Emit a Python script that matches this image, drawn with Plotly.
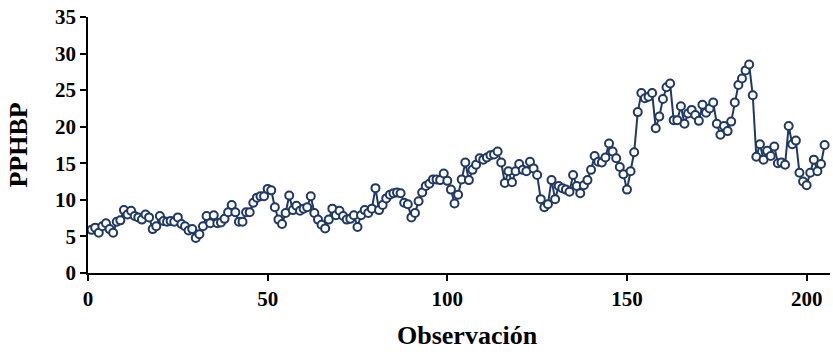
import plotly.graph_objects as go

obs = list(range(1, 206))
pphbp = [
    5.9, 6.2, 5.5, 6.4, 6.8, 6.0, 5.5, 7.0, 7.2, 8.6,
    8.0, 8.5, 7.8, 7.6, 7.3, 8.0, 7.6, 6.0, 6.4, 7.8,
    7.1, 7.0, 7.1, 7.0, 7.6, 6.7, 6.4, 5.8, 6.0, 4.8,
    5.3, 6.4, 7.8, 6.8, 7.9, 6.8, 6.9, 7.4, 8.3, 9.3,
    8.3, 7.0, 7.0, 8.3, 8.3, 9.6, 10.3, 10.5, 10.5, 11.5,
    11.3, 9.0, 7.3, 6.7, 8.2, 10.6, 8.6, 9.2, 8.5, 8.8,
    9.0, 10.5, 8.2, 7.3, 6.6, 6.1, 7.3, 8.8, 7.9, 8.5,
    7.8, 7.3, 7.4, 7.9, 6.3, 7.9, 8.6, 8.2, 8.8, 11.6,
    8.6, 9.3, 10.2, 10.7, 10.9, 11.0, 10.9, 9.6, 9.4, 7.6,
    8.2, 9.8, 11.0, 11.9, 12.2, 12.8, 12.8, 12.7, 13.6, 12.6,
    11.4, 9.5, 10.7, 12.8, 15.1, 12.7, 14.1, 14.8, 15.7, 15.5,
    15.8, 16.1, 16.2, 16.6, 15.1, 12.3, 13.9, 12.4, 13.9, 14.9,
    14.1, 13.9, 15.2, 14.3, 13.4, 10.1, 9.0, 9.4, 12.7, 10.1,
    11.9, 11.6, 11.4, 11.1, 13.4, 11.9, 10.9, 12.0, 12.7, 14.1,
    16.0, 15.2, 15.1, 15.8, 17.7, 16.6, 15.7, 14.5, 13.5, 11.4,
    13.9, 16.5, 22.0, 24.6, 23.9, 24.1, 24.6, 19.8, 21.4, 23.8,
    25.4, 25.9, 20.9, 20.9, 22.8, 20.4, 21.8, 22.3, 21.6, 20.8,
    23.0, 21.9, 22.5, 23.3, 20.4, 18.9, 20.1, 19.4, 20.7, 23.3,
    25.7, 26.6, 27.7, 28.5, 24.3, 15.9, 17.6, 15.5, 16.7, 16.0,
    17.3, 15.0, 15.1, 14.8, 20.1, 17.6, 18.1, 13.7, 12.5, 12.0,
    13.7, 15.5, 13.9, 14.9, 17.5,
]

x_ticks = [0, 50, 100, 150, 200]
y_ticks = [0, 5, 10, 15, 20, 25, 30, 35]

navy = "#203864"
font_family = "Liberation Serif, Times New Roman, serif"

fig = go.Figure()
fig.add_trace(go.Scatter(
    x=obs, y=pphbp, mode="lines+markers",
    line=dict(color=navy, width=2),
    marker=dict(symbol="circle", size=8, color="white",
                line=dict(color=navy, width=2)),
    showlegend=False,
))

fig.update_layout(
    width=833, height=356,
    margin=dict(l=88, r=3, t=17, b=83),
    paper_bgcolor="white", plot_bgcolor="white",
    font=dict(family=font_family, color="black"),
    annotations=[dict(
        text="<b>Observación</b>", xref="paper", yref="paper",
        x=0.511, y=-0.246, xanchor="center", yanchor="middle",
        showarrow=False,
        font=dict(family=font_family, size=26, color="black"),
    )],
)
fig.update_xaxes(
    range=[0, 206.5], tickvals=x_ticks, ticktext=[str(v) for v in x_ticks],
    showline=True, linecolor="black", linewidth=1.5,
    ticks="outside", ticklen=6, tickcolor="black", tickwidth=1.5,
    showgrid=False, zeroline=False,
    tickfont=dict(family=font_family, size=21, color="black", weight="bold"),
)
fig.update_yaxes(
    range=[0, 35], tickvals=y_ticks, ticktext=[str(v) for v in y_ticks],
    showline=True, linecolor="black", linewidth=1.5,
    ticks="outside", ticklen=6, tickcolor="black", tickwidth=1.5,
    showgrid=False, zeroline=False,
    tickfont=dict(family=font_family, size=21, color="black", weight="bold"),
    title=dict(text="<b>PPHBP</b>", standoff=20,
               font=dict(family=font_family, size=26, color="black")),
)

fig.write_html("out.html")
